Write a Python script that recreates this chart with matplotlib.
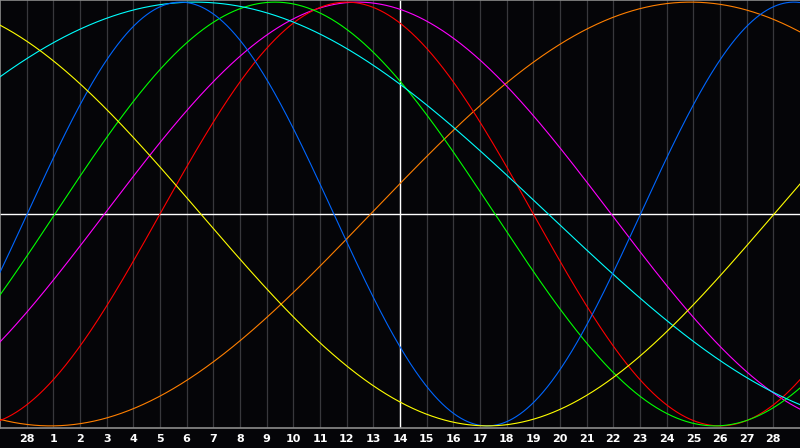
import numpy as np
import matplotlib
matplotlib.use("Agg")
import matplotlib.pyplot as plt

# cycle lengths (days) and the day (x position) where each curve peaks
periods = [48, 38, 28, 33, 53, 23, 43]
peak_days = [25.9, 13.42, 13.0, 10.31, 7.31, 6.77, -3.22]
colors = ['#ff7f00', '#ff00ff', '#ff0000', '#00ff00', '#00ffff', '#0066ff', '#ffff00']

tick_labels = ['28'] + [str(d) for d in range(1, 29)]
n_days = 30
today = 15

bg = '#050508'
fig = plt.figure(figsize=(8, 4.48), dpi=100, facecolor=bg)
ax = fig.add_axes([0, 20/448, 1, 428/448])
ax.set_facecolor(bg)

t = np.linspace(0, n_days, 2000)

# day grid
for k in range(1, n_days):
    ax.axvline(k, color='#38383c', lw=0.9, zorder=1)
ax.axvline(today, color='white', lw=1.0, zorder=2)
ax.axhline(0, color='white', lw=1.0, zorder=2)

for P, pk, c in zip(periods, peak_days, colors):
    y = np.cos(2*np.pi*(t - pk)/P)
    ax.plot(t, y, color=c, lw=0.8, zorder=3)

ax.set_xlim(0, n_days)
ax.set_ylim(-1.01, 1.01)
ax.set_yticks([])
ax.set_xticks(range(1, n_days))
ax.set_xticklabels(tick_labels, color='white', fontsize=8, fontweight='bold')
ax.tick_params(axis='x', length=0, pad=4)

for s in ['top', 'left', 'bottom']:
    ax.spines[s].set_color('#8c8c8c')
    ax.spines[s].set_linewidth(1.2)
ax.spines['right'].set_visible(False)

fig.savefig('out.png', dpi=100, facecolor=bg)
